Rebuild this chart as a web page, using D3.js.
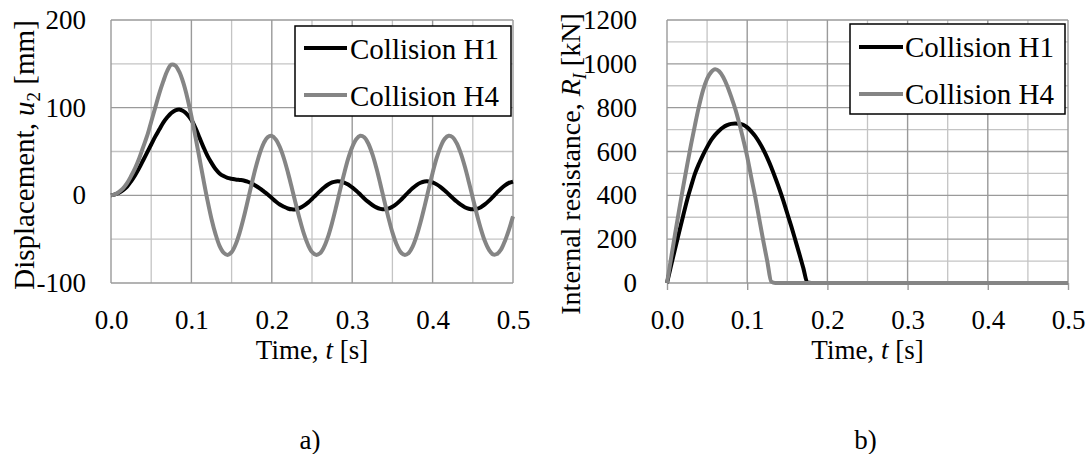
<!DOCTYPE html>
<html><head><meta charset="utf-8">
<script src="https://cdn.jsdelivr.net/npm/d3@7"></script>
<style>
html,body{margin:0;padding:0;background:#fff;}
svg{display:block;}
text{font-family:"Liberation Serif","Times New Roman",serif;fill:#000;}
</style>
</head><body>
<svg id="c" width="1091" height="454"></svg>
<script>
// ---------------- DATA ----------------
const time = [0,0.005,0.01,0.015,0.02,0.025,0.03,0.035,0.04,0.045,0.05,0.055,0.06,0.065,0.07,0.075,0.08,0.085,0.09,0.095,
0.1,0.105,0.11,0.115,0.12,0.125,0.13,0.135,0.14,0.145,0.15,0.155,0.16,0.165,0.17,0.175,0.18,0.185,0.19,0.195,
0.2,0.205,0.21,0.215,0.22,0.225,0.23,0.235,0.24,0.245,0.25,0.255,0.26,0.265,0.27,0.275,0.28,0.285,0.29,0.295,
0.3,0.305,0.31,0.315,0.32,0.325,0.33,0.335,0.34,0.345,0.35,0.355,0.36,0.365,0.37,0.375,0.38,0.385,0.39,0.395,
0.4,0.405,0.41,0.415,0.42,0.425,0.43,0.435,0.44,0.445,0.45,0.455,0.46,0.465,0.47,0.475,0.48,0.485,0.49,0.495,0.5];

const seriesNames = ["Collision H1", "Collision H4"];

// a) Displacement u2 [mm]
const dispH1 = [0,1,3,6,10,16,23,31,40,49,58,67,75,83,89,94,97,98,96,92,
86,77,66,55,45,37,30,25,22,20,19,18,17.5,17,15.5,13.5,11,8,4.5,1,
-3,-7,-10.5,-13,-15,-16,-15.8,-14.4,-11.8,-8.3,-4.1,0.4,4.8,8.9,12.3,14.7,15.9,15.8,14.6,12.3,
9.0,5.2,0.9,-3.5,-7.5,-11.0,-13.8,-15.4,-16.0,-15.2,-13.1,-9.9,-5.8,-1.1,3.6,8.0,11.7,14.4,15.8,15.9,
14.7,12.5,9.4,5.6,1.3,-3.0,-7.1,-10.7,-13.5,-15.3,-16.0,-15.4,-13.5,-10.3,-6.3,-1.7,3.1,7.6,11.4,14.2,15.7];

const dispH4 = [0,1,4,8,14,22,31,42,55,68,84,100,116,130,142,149,148,140.7,128.2,111.1,
90.4,67.0,42.5,17.8,-5.7,-26.9,-44.2,-57.6,-65.4,-68,-64.8,-56.1,-42.7,-25.7,-6.5,13.2,31.8,47.7,59.6,66.5,
67.8,63.8,55.1,42.3,26.2,8.2,-10.4,-28.2,-44.1,-56.4,-64.6,-67.9,-66.1,-58.9,-47.0,-31.3,-13.1,6.2,24.9,41.8,
55.0,64.1,67.9,66.2,59.1,47.2,31.4,13.0,-6.5,-25.3,-42.3,-55.5,-64.5,-67.9,-66.0,-58.7,-46.6,-30.8,-12.6,6.8,
25.6,42.4,55.5,64.4,67.9,66.2,59.4,48.1,33.1,15.6,-3.0,-21.5,-38.2,-52.2,-62.0,-67.3,-67,-62,-52,-39,-24];

// b) Internal resistance R_I [kN]
const resH1 = [0,78,155,230,305,378,441,500,545,585,620,652,676,695,710,720,726,728,727,722,
710,692,670,642,609,571,528,480,430,376,317,258,196,133,68,2,0,0,0,0,
0,0,0,0,0,0,0,0,0,0,0,0,0,0,0,0,0,0,0,0,
0,0,0,0,0,0,0,0,0,0,0,0,0,0,0,0,0,0,0,0,
0,0,0,0,0,0,0,0,0,0,0,0,0,0,0,0,0,0,0,0,0];

const resH4 = [0,112,222,330,435,536,632,723,808,880,932,962,975,966,940,900,850,796,730,656,
577,483,393,293,193,100,6,0,0,0,0,0,0,0,0,0,0,0,0,0,
0,0,0,0,0,0,0,0,0,0,0,0,0,0,0,0,0,0,0,0,
0,0,0,0,0,0,0,0,0,0,0,0,0,0,0,0,0,0,0,0,
0,0,0,0,0,0,0,0,0,0,0,0,0,0,0,0,0,0,0,0,0];

const xTicks = [0, 0.1, 0.2, 0.3, 0.4, 0.5];
const xMinorTicks = [0.05, 0.15, 0.25, 0.35, 0.45];
const dispTicks = [-100, 0, 100, 200];
const dispMinorTicks = [-50, 50, 150];
const resTicks = [0, 200, 400, 600, 800, 1000, 1200];
const resMinorTicks = [100, 300, 500, 700, 900, 1100];
const xTitle = "Time, ";
const captions = ["a)", "b)"];

// ---------------- DRAW ----------------
const svg = d3.select("#c");
const colors = ["#000000", "#858585"];
const FONT = 27;
const SERIF = "Liberation Serif, Times New Roman, serif";
const intFmt = d => (d < 0 ? "-" + Math.abs(d) : String(d));

function drawChart(cfg) {
  const g = svg.append("g");
  const x = d3.scaleLinear().domain([0, 0.5]).range([cfg.left, cfg.right]);
  const y = d3.scaleLinear().domain(cfg.domain).range([cfg.bottom, cfg.top]);

  // minor grid
  g.append("g").selectAll("line").data(xMinorTicks).join("line")
    .attr("x1", d => x(d)).attr("x2", d => x(d)).attr("y1", cfg.top).attr("y2", cfg.bottom)
    .attr("stroke", "#c4c4c4").attr("stroke-width", 1.3);
  g.append("g").selectAll("line").data(cfg.minor).join("line")
    .attr("y1", d => y(d)).attr("y2", d => y(d)).attr("x1", cfg.left).attr("x2", cfg.right)
    .attr("stroke", "#c4c4c4").attr("stroke-width", 1.3);
  // major grid
  g.append("g").selectAll("line").data(xTicks).join("line")
    .attr("x1", d => x(d)).attr("x2", d => x(d)).attr("y1", cfg.top).attr("y2", cfg.bottom)
    .attr("stroke", "#9a9a9a").attr("stroke-width", 1.4);
  g.append("g").selectAll("line").data(cfg.ticks).join("line")
    .attr("y1", d => y(d)).attr("y2", d => y(d)).attr("x1", cfg.left).attr("x2", cfg.right)
    .attr("stroke", "#9a9a9a").attr("stroke-width", 1.4);

  // x axis labels (and tick marks for chart b)
  const xa = d3.axisBottom(x).tickValues(xTicks).tickFormat(d3.format(".1f"))
    .tickSize(cfg.xTickSize).tickPadding(cfg.xPad);
  const xg = g.append("g").attr("transform", `translate(0,${cfg.bottom})`).call(xa)
    .attr("font-family", SERIF).attr("font-size", FONT);
  xg.select(".domain").remove();
  xg.selectAll("line").attr("stroke", "#9a9a9a").attr("stroke-width", 1.4);
  xg.selectAll("text").attr("fill", "#000");

  // y axis labels
  const ya = d3.axisLeft(y).tickValues(cfg.ticks).tickFormat(intFmt)
    .tickSize(0).tickPadding(cfg.left - cfg.yLabelRight);
  const yg = g.append("g").attr("transform", `translate(${cfg.left},0)`).call(ya)
    .attr("font-family", SERIF).attr("font-size", FONT);
  yg.select(".domain").remove();
  yg.selectAll("text").attr("fill", "#000");

  // series
  const line = d3.line().x((d, i) => x(time[i])).y(d => y(d)).curve(cfg.curve);
  cfg.series.forEach((s, k) => {
    g.append("path").datum(s).attr("d", line).attr("fill", "none")
      .attr("stroke", colors[k]).attr("stroke-width", 4).attr("stroke-linejoin", "round");
  });

  // y title
  const yt = g.append("text").attr("transform", `translate(${cfg.yTitleX},${cfg.yTitleY}) rotate(-90)`)
    .attr("text-anchor", "middle").attr("font-size", cfg.yTitleSize);
  cfg.yTitle(yt);

  // x title
  const xt = g.append("text").attr("x", (cfg.left + cfg.right) / 2).attr("y", cfg.xTitleY)
    .attr("text-anchor", "middle").attr("font-size", FONT);
  xt.append("tspan").text(xTitle);
  xt.append("tspan").attr("font-style", "italic").text("t");
  xt.append("tspan").text(" [s]");

  // legend
  const L = cfg.legend;
  g.append("rect").attr("x", L.x).attr("y", L.y).attr("width", L.w).attr("height", L.h)
    .attr("fill", "#fff").attr("stroke", "#000").attr("stroke-width", 1.5);
  seriesNames.forEach((name, k) => {
    const ly = L.y + L.row0 + k * L.rowGap;
    g.append("line").attr("x1", L.x + L.lx0).attr("x2", L.x + L.lx1).attr("y1", ly).attr("y2", ly)
      .attr("stroke", colors[k]).attr("stroke-width", 4);
    g.append("text").attr("x", L.x + L.tx).attr("y", ly + L.tdy).attr("font-size", 29).text(name);
  });

  // caption
  g.append("text").attr("x", (cfg.left + cfg.right) / 2 - 2).attr("y", 449)
    .attr("text-anchor", "middle").attr("font-size", FONT).text(cfg.caption);
}

drawChart({
  left: 111, right: 513, top: 20, bottom: 283,
  domain: [-100, 200], ticks: dispTicks, minor: dispMinorTicks,
  xTickSize: 0, xPad: 27, yLabelRight: 86,
  series: [dispH1, dispH4], curve: d3.curveCatmullRom.alpha(0.5),
  yTitleX: 34, yTitleY: 155, yTitleSize: 29,
  yTitle: t => {
    t.append("tspan").text("Displacement, ");
    t.append("tspan").attr("font-style", "italic").text("u");
    t.append("tspan").attr("font-size", 19).attr("dy", 6).text("2");
    t.append("tspan").attr("dy", -6).text(" [mm]");
  },
  xTitleY: 359,
  legend: {x: 295, y: 26, w: 216, h: 90, row0: 22, rowGap: 47, lx0: 9, lx1: 52, tx: 55, tdy: 11},
  caption: captions[0]
});

drawChart({
  left: 667, right: 1068, top: 20, bottom: 283,
  domain: [0, 1200], ticks: resTicks, minor: resMinorTicks,
  xTickSize: 7, xPad: 20, yLabelRight: 637,
  series: [resH1, resH4], curve: d3.curveMonotoneX,
  yTitleX: 580, yTitleY: 164, yTitleSize: 28,
  yTitle: t => {
    t.append("tspan").text("Internal resistance, ");
    t.append("tspan").attr("font-style", "italic").text("R");
    t.append("tspan").attr("font-style", "italic").attr("font-size", 18).attr("dy", 6).text("I");
    t.append("tspan").attr("dy", -6).text(" [kN]");
  },
  xTitleY: 359,
  legend: {x: 850, y: 24, w: 215, h: 90, row0: 23, rowGap: 47, lx0: 9, lx1: 53, tx: 55, tdy: 10},
  caption: captions[1]
});
</script>
</body></html>
